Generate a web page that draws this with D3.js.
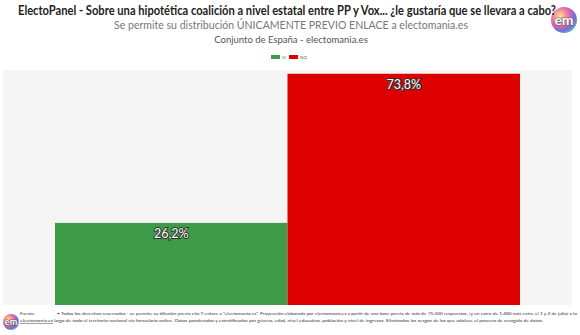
<!DOCTYPE html>
<html><head><meta charset="utf-8">
<script src="https://cdn.jsdelivr.net/npm/d3@7"></script>
<style>body{margin:0;background:#fff;}svg{display:block;}</style>
</head><body>
<script>
const categories = ["SI", "NO"];
const values = [26.2, 73.8];
const labels = ["26,2%", "73,8%"];
const colors = ["#3e9b48", "#dd0000"];
const title = "ElectoPanel - Sobre una hipotética coalición a nivel estatal entre PP y Vox... ¿le gustaría que se llevara a cabo?";
const subtitle = "Se permite su distribución ÚNICAMENTE PREVIO ENLACE a electomania.es";
const subtitle2 = "Conjunto de España - electomania.es";
const footer1 = "• Todos los derechos reservados - se permite su difusión previa cita Y enlace a \"electomania.es\". Proyección elaborada por electomania.es a partir de una base previa de más de 75.000 respuestas, [y un extra de 1.480 más entre el 1 y 2 de julio] a lo";
const footer2 = "largo de todo el territorio nacional vía formulario online. Datos ponderados y estratificados por género, edad, nivel educativo, población y nivel de ingresos. Eliminados los sesgos de los que adolece el proceso de recogida de datos.";

const W = 580, H = 335;
const svg = d3.select("body").append("svg").attr("width", W).attr("height", H);
const defs = svg.append("defs");

const plot = {left: 3, right: 572, top: 70, bottom: 305};
svg.append("rect").attr("x", plot.left).attr("y", plot.top)
  .attr("width", plot.right - plot.left).attr("height", plot.bottom - plot.top).attr("fill", "#f5f5f5");

const x = d3.scaleBand().domain(categories).range([55, 520]).padding(0);
const y = d3.scaleLinear().domain([0, 75]).range([plot.bottom, plot.top]);

svg.selectAll("rect.bar").data(values).join("rect").attr("class", "bar")
  .attr("x", (d, i) => x(categories[i])).attr("width", x.bandwidth())
  .attr("y", d => y(d)).attr("height", d => y(0) - y(d))
  .attr("fill", (d, i) => colors[i]);

svg.selectAll("text.lbl").data(values).join("text").attr("class", "lbl")
  .attr("x", (d, i) => x(categories[i]) + x.bandwidth() / 2)
  .attr("y", d => y(d) + 15)
  .attr("text-anchor", "middle")
  .attr("font-family", "Lato, sans-serif").attr("font-size", 12.5)
  .attr("fill", "#fff").attr("stroke", "#333").attr("stroke-width", 2).attr("paint-order", "stroke")
  .text((d, i) => labels[i]);

// logo
function logo(cx, cy, r, fs) {
  const id = "g" + Math.round(cx);
  const g = defs.append("radialGradient").attr("id", id).attr("cx", "35%").attr("cy", "35%").attr("r", "75%");
  g.append("stop").attr("offset", "0%").attr("stop-color", "#ffe27a");
  g.append("stop").attr("offset", "45%").attr("stop-color", "#e85a9a");
  g.append("stop").attr("offset", "75%").attr("stop-color", "#6a5acd");
  g.append("stop").attr("offset", "100%").attr("stop-color", "#2fc4c0");
  svg.append("circle").attr("cx", cx).attr("cy", cy).attr("r", r).attr("fill", `url(#${id})`).attr("opacity", 0.9);
  svg.append("text").attr("x", cx).attr("y", cy + fs * 0.35).attr("text-anchor", "middle")
    .attr("font-family", "Lato, sans-serif").attr("font-weight", "bold").attr("font-size", fs)
    .attr("fill", "#fff").attr("stroke", "#555").attr("stroke-width", 1).attr("paint-order", "stroke").text("em");
}
logo(564, 20, 13, 14);
logo(11, 322, 8, 9);

// titles
svg.append("text").attr("x", 287).attr("y", 15).attr("text-anchor", "middle")
  .attr("font-family", "Lato, sans-serif").attr("font-weight", "bold").attr("font-size", 13)
  .attr("fill", "#222").attr("textLength", 538).attr("lengthAdjust", "spacingAndGlyphs").text(title);
svg.append("text").attr("x", 291).attr("y", 29).attr("text-anchor", "middle")
  .attr("font-family", "Lato, sans-serif").attr("font-size", 11.5)
  .attr("fill", "#777").attr("textLength", 354).attr("lengthAdjust", "spacingAndGlyphs").text(subtitle);
svg.append("text").attr("x", 291).attr("y", 43).attr("text-anchor", "middle")
  .attr("font-family", "Lato, sans-serif").attr("font-size", 9.5)
  .attr("fill", "#555").text(subtitle2);

// legend
const leg = svg.append("g");
const legItems = [{x: 271, c: colors[0], t: "SI"}, {x: 289, c: colors[1], t: "NO"}];
legItems.forEach(it => {
  leg.append("rect").attr("x", it.x).attr("y", 55).attr("width", 9).attr("height", 4).attr("fill", it.c);
  leg.append("text").attr("x", it.x + 11).attr("y", 59).attr("font-family", "Lato, sans-serif")
    .attr("font-size", 4.5).attr("fill", "#666").text(it.t);
});

// footer
const fs = 4.6;
svg.append("text").attr("x", 20).attr("y", 315).attr("font-family", "Lato, sans-serif").attr("font-size", fs)
  .attr("fill", "#333").text("Fuente:");
svg.append("text").attr("x", 57).attr("y", 315).attr("font-family", "Lato, sans-serif").attr("font-size", fs)
  .attr("fill", "#333").attr("textLength", 520).attr("lengthAdjust", "spacingAndGlyphs").text(footer1);
svg.append("text").attr("x", 20).attr("y", 322).attr("font-family", "Lato, sans-serif").attr("font-size", fs)
  .attr("fill", "#333").attr("text-decoration", "underline").attr("textLength", 33).attr("lengthAdjust", "spacingAndGlyphs").text("electomania.es");
svg.append("text").attr("x", 54).attr("y", 322).attr("font-family", "Lato, sans-serif").attr("font-size", fs)
  .attr("fill", "#333").attr("textLength", 489).attr("lengthAdjust", "spacingAndGlyphs").text(footer2);
</script>
</body></html>
